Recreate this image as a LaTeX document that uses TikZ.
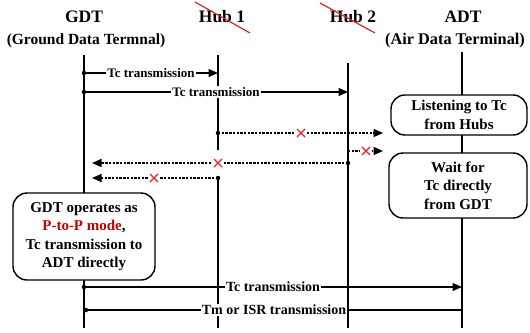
\documentclass[tikz,border=0pt]{standalone}
\usepackage{fontspec}
\setmainfont{Liberation Serif}
\usetikzlibrary{arrows.meta}
\definecolor{xred}{RGB}{225,35,35}
\definecolor{pred}{RGB}{200,0,0}
\begin{document}
\begin{tikzpicture}[x=1pt,y=-1pt,
  life/.style={line width=1.3pt},
  msg/.style={line width=1.3pt},
  dmsg/.style={line width=1.4pt, dash pattern=on 2.4pt off 1.3pt},
  tip/.style={-{Triangle[length=9.5pt,width=8pt]}},
  lbl/.style={fill=white, inner sep=1pt, font=\fontsize{13}{15}\selectfont\bfseries},
  lblb/.style={fill=white, inner sep=1pt, font=\fontsize{14}{16}\selectfont\bfseries},
  ttl/.style={anchor=base, inner sep=0pt, font=\fontsize{17.5}{20}\selectfont\bfseries},
  sub/.style={anchor=base, inner sep=0pt, font=\fontsize{15.5}{18}\selectfont\bfseries},
  state/.style={draw, line width=1.4pt, rounded corners=14pt, fill=white, align=center,
    font=\fontsize{15}{18.5}\selectfont\bfseries, inner sep=0pt},
  xmark/.style={fill=white, minimum size=12pt, inner sep=0pt,
    path picture={\draw[xred, line width=1.1pt]
      ([xshift=2pt,yshift=-2pt]path picture bounding box.north west) --
      ([xshift=-2pt,yshift=2pt]path picture bounding box.south east)
      ([xshift=-2pt,yshift=-2pt]path picture bounding box.north east) --
      ([xshift=2pt,yshift=2pt]path picture bounding box.south west);}},
  strike/.style={xred, line width=1.2pt},
  dot/.style={circle, fill=black, inner sep=0pt, minimum size=4.5pt}
]
\useasboundingbox (0,0) rectangle (530,332);

% titles
\node[ttl] (gdt) at (84,23) {GDT};
\node[sub] (gdts) at (86,44) {(Ground Data Termnal)};
\node[ttl] (hub1) at (222,23) {Hub 1};
\node[ttl] (hub2) at (353,23) {Hub 2};
\node[ttl] (adt) at (463,23) {ADT};
\node[sub, font=\fontsize{16.3}{18}\selectfont\bfseries] (adts) at (455,44) {(Air Data Terminal)};

% strike-through of hubs
\coordinate (s1a) at (195,2); \coordinate (s1b) at (250,33);
\coordinate (s2a) at (320,3); \coordinate (s2b) at (375,33);
\draw[strike] (s1a) -- (s1b);
\draw[strike] (s2a) -- (s2b);

% lifelines
\coordinate (g0) at (84,55);   \coordinate (g1) at (84,328);
\coordinate (h1a) at (218,55); \coordinate (h1b) at (218,150);
\coordinate (h1c) at (218,177);\coordinate (h1d) at (218,328);
\coordinate (h2a) at (348,63); \coordinate (h2b) at (348,328);
\coordinate (a0) at (462,52);  \coordinate (a1) at (462,328);
\draw[life] (g0) -- (g1);
\draw[life] (h1a) -- (h1b);
\draw[life] (h1c) -- (h1d);
\draw[life] (h2a) -- (h2b);
\draw[life] (a0) -- (a1);

% message end points
\coordinate (m1s) at (84,73);   \coordinate (m1e) at (218,73);
\coordinate (m2s) at (84,92);   \coordinate (m2e) at (348,92);
\coordinate (m3s) at (218,133); \coordinate (m3e) at (383,133);
\coordinate (m4s) at (348,151); \coordinate (m4e) at (383,151);
\coordinate (m5s) at (348,163); \coordinate (m5e) at (92,163);
\coordinate (m6s) at (218,178); \coordinate (m6e) at (92,178);
\coordinate (m7s) at (84,287);  \coordinate (m7e) at (462,287);
\coordinate (m8s) at (86,310);  \coordinate (m8e) at (462,310);

% messages
\draw[msg,tip] (m1s) -- node[lbl] {Tc transmission} (m1e);
\draw[msg,tip] (m2s) -- node[lbl] {Tc transmission} (m2e);
\draw[dmsg,tip] (m3s) -- (m3e);
\draw[dmsg,tip] (m4s) -- (m4e);
\draw[dmsg,tip] (m5s) -- (m5e);
\draw[dmsg,tip] (m6s) -- (m6e);
\draw[msg,tip] (m7s) -- node[lblb] {Tc transmission} (m7e);
\draw[msg] (m8s) -- node[lblb] {Tm or ISR transmission} (m8e);

% failure marks
\node[xmark] (x1) at (301,133) {};
\node[xmark] (x2) at (366,151) {};
\node[xmark] (x3) at (218,163) {};
\node[xmark] (x4) at (154,178) {};

% dots
\foreach \p in {m1s,m2s,m3s,m5s,m6s,m7s,m8s} \node[dot] at (\p) {};

% state boxes
\node[state, minimum width=136pt, minimum height=40pt] (listen) at (459,115)
  {Listening to Tc\\from Hubs};
\node[state, minimum width=138pt, minimum height=65pt] (wait) at (458,185.5)
  {Wait for\\Tc directly\\from GDT};
\node[state, minimum width=142pt, minimum height=87pt] (gbox) at (84,236.5)
  {GDT operates as\\{\color{pred}P-to-P mode},\\Tc transmission to\\ADT directly};
\end{tikzpicture}
\end{document}
